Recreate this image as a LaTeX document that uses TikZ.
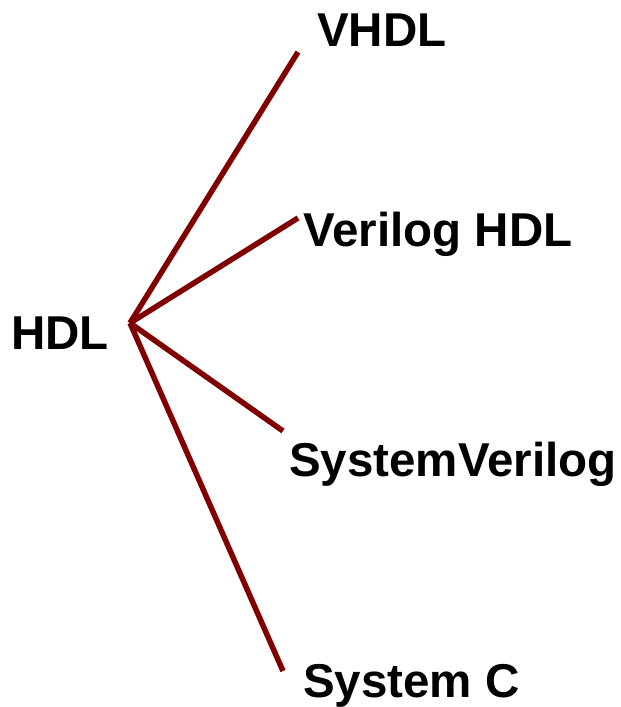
\documentclass[tikz,border=0pt]{standalone}
\usepackage{fontspec}
\setmainfont{Liberation Sans}
\usepackage{xcolor}
\usepackage{tikz}
\usetikzlibrary{positioning}
\definecolor{branchred}{HTML}{800000}

\begin{document}
\begin{tikzpicture}[x=1pt, y=-1pt, every node/.style={inner sep=0pt, anchor=base west, font=\fontsize{47.5}{52}\selectfont\bfseries}]
\useasboundingbox (0,0) rectangle (621,707);
\node (hdl) at (11,349) {HDL};

\coordinate (root) at (130,323);
\coordinate (vhdlend) at (298,52);
\coordinate (verilogend) at (298,218);
\coordinate (svend) at (283,431);
\coordinate (scend) at (283,671);

\node (vhdl) at (317,46) {VHDL};
\node (verilog) at (303,246) {Verilog HDL};
\node (sv) at (289,476) {SystemVerilog};
\node (sc) at (303,697) {System C};

\draw [branchred, line width=5.5pt] (root) edge (vhdlend) edge (verilogend) edge (svend) edge (scend);
\end{tikzpicture}
\end{document}
